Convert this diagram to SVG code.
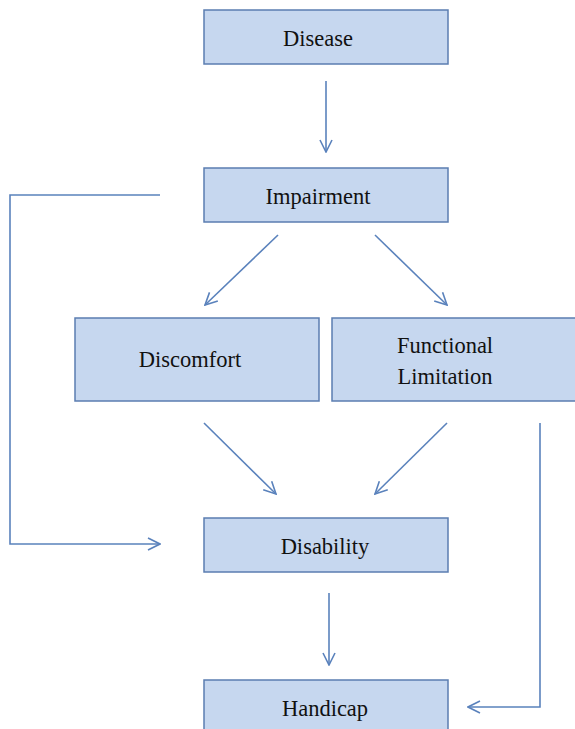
<svg xmlns="http://www.w3.org/2000/svg" width="575" height="729" viewBox="0 0 575 729">
<style>
.box{fill:#C6D7EF;stroke:#5B7DB1;stroke-width:1.5}
.lbl{font-family:"Liberation Serif",serif;font-size:22.5px;fill:#111;text-anchor:middle}
.con{fill:none;stroke:#5A82BC;stroke-width:1.6}
</style>
<defs>
<marker id="ah" viewBox="0 0 14 14" refX="13" refY="7" markerWidth="14" markerHeight="14" markerUnits="userSpaceOnUse" orient="auto">
<polyline points="1,1 13,7 1,13" fill="none" stroke="#5A82BC" stroke-width="1.6"/>
</marker>
</defs>
<rect width="575" height="729" fill="#fff"/>
<g id="connectors">
<line class="con" x1="326" y1="81" x2="326" y2="152" marker-end="url(#ah)"/>
<line class="con" x1="278" y1="235" x2="205" y2="305" marker-end="url(#ah)"/>
<line class="con" x1="375" y1="235" x2="447" y2="305" marker-end="url(#ah)"/>
<line class="con" x1="204" y1="423" x2="276" y2="494" marker-end="url(#ah)"/>
<line class="con" x1="447" y1="423" x2="375" y2="494" marker-end="url(#ah)"/>
<line class="con" x1="329" y1="593" x2="329" y2="665" marker-end="url(#ah)"/>
<polyline class="con" points="160,195 10,195 10,544 160,544" marker-end="url(#ah)"/>
<polyline class="con" points="540,423 540,707 468,707" marker-end="url(#ah)"/>
</g>
<g id="disease"><rect class="box" x="204" y="10" width="244" height="54"/><text class="lbl" x="318" y="46">Disease</text></g>
<g id="impairment"><rect class="box" x="204" y="168" width="244" height="54"/><text class="lbl" x="318" y="204">Impairment</text></g>
<g id="discomfort"><rect class="box" x="75" y="318" width="244" height="83"/><text class="lbl" x="190" y="367">Discomfort</text></g>
<g id="functional"><rect class="box" x="332" y="318" width="250" height="83"/><text class="lbl" x="445" y="353">Functional</text><text class="lbl" x="445" y="384">Limitation</text></g>
<g id="disability"><rect class="box" x="204" y="518" width="244" height="54"/><text class="lbl" x="325" y="554">Disability</text></g>
<g id="handicap"><rect class="box" x="204" y="680" width="244" height="60"/><text class="lbl" x="325" y="716">Handicap</text></g>
</svg>
